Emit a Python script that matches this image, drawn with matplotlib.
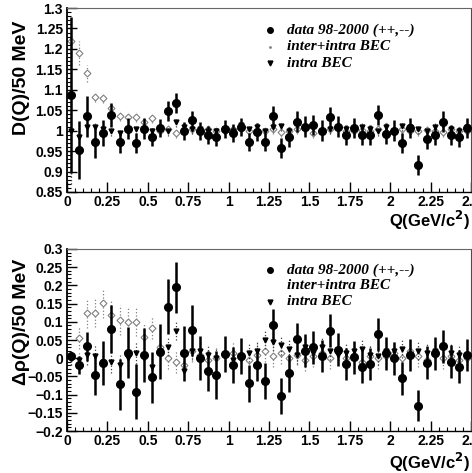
import numpy as np
import matplotlib
matplotlib.use('Agg')
import matplotlib.pyplot as plt
from matplotlib.ticker import MultipleLocator, FuncFormatter

# bin centres, 50 MeV bins
q_bins = np.arange(50) * 0.05 + 0.025

# upper panel: D(Q)
d_top = [1.087, 0.953, 1.035, 0.972, 0.995, 1.038, 0.973, 1.005, 0.970, 1.005,
         0.985, 1.007, 1.048, 1.068, 1.000, 1.027, 1.000, 0.990, 0.985, 1.003,
         0.995, 1.010, 0.973, 0.997, 0.973, 1.036, 0.957, 0.985, 1.022, 1.010,
         1.014, 1.000, 1.034, 1.010, 0.990, 1.006, 0.990, 0.990, 1.038, 0.993,
         1.000, 0.970, 1.006, 0.916, 0.979, 0.990, 1.022, 0.990, 0.985, 1.006]
d_top_err = [0.19, 0.07, 0.05, 0.04, 0.032, 0.03, 0.027, 0.025, 0.025, 0.025,
             0.022, 0.022, 0.025, 0.025, 0.022, 0.022, 0.022, 0.022, 0.022, 0.022,
             0.022, 0.022, 0.022, 0.022, 0.022, 0.025, 0.025, 0.025, 0.025, 0.025,
             0.025, 0.025, 0.025, 0.025, 0.025, 0.025, 0.025, 0.025, 0.025, 0.025,
             0.025, 0.025, 0.025, 0.025, 0.025, 0.025, 0.025, 0.025, 0.025, 0.025]
ii_top = [1.22, 1.19, 1.14, 1.082, 1.08, 1.055, 1.036, 1.034, 1.033, 1.021,
          1.03, 1.0, 1.005, 0.995, 1.0, 1.005, 1.0, 1.005, 1.0, 0.998,
          1.003, 1.005, 1.0, 1.002, 0.998, 1.005, 0.997, 1.0, 1.005, 1.003,
          0.995, 1.0, 1.003, 1.01, 1.0, 0.998, 1.002, 1.0, 1.003, 0.997,
          1.0, 1.005, 1.0, 0.998, 1.002, 1.0, 0.997, 1.003, 1.0, 1.0]
ii_top_err = [0.06, 0.03, 0.02] + [0.012] * 47
i_top = [1.0, 0.985, 1.01, 1.01, 1.005, 1.0, 0.995, 1.0, 1.005, 1.0,
         1.0, 1.005, 1.0, 1.02, 1.01, 1.005, 1.005, 1.0, 1.0, 1.005,
         1.0, 1.015, 1.005, 1.01, 1.0, 1.01, 1.012, 1.0, 1.015, 1.005,
         1.01, 1.0, 1.005, 1.01, 1.005, 1.0, 1.01, 1.005, 1.0, 1.008,
         1.0, 1.012, 1.01, 1.005, 1.0, 1.01, 1.015, 1.005, 1.0, 1.01]
i_top_err = [0.13, 0.03, 0.02] + [0.012] * 47

# lower panel: delta rho(Q)
d_bot = [0.006, -0.019, 0.033, -0.046, -0.014, 0.080, -0.072, 0.015, -0.092, 0.009,
         -0.053, 0.018, 0.142, 0.195, 0.013, 0.077, 0.0, -0.034, -0.046, 0.012,
         -0.019, 0.006, -0.069, -0.019, -0.062, 0.091, -0.104, -0.042, 0.053, 0.021,
         0.030, 0.006, 0.076, 0.023, -0.016, 0.002, -0.023, -0.016, 0.066, 0.013,
         0.0, -0.055, 0.009, -0.130, -0.012, 0.013, 0.033, -0.010, -0.023, 0.009]
d_bot_err = [0.01, 0.025, 0.04, 0.055, 0.06, 0.065, 0.07, 0.07, 0.075, 0.075,
             0.07, 0.075, 0.075, 0.07, 0.075, 0.07, 0.06, 0.055, 0.065, 0.05,
             0.05, 0.05, 0.05, 0.045, 0.05, 0.045, 0.05, 0.05, 0.045, 0.045,
             0.045, 0.045, 0.045, 0.045, 0.045, 0.045, 0.045, 0.045, 0.045, 0.045,
             0.045, 0.045, 0.045, 0.043, 0.045, 0.045, 0.045, 0.045, 0.045, 0.045]
ii_bot = [0.0, 0.055, 0.123, 0.125, 0.151, 0.119, 0.105, 0.10, 0.10, 0.059,
          0.082, 0.03, 0.0, -0.01, -0.02, 0.02, 0.01, -0.005, 0.0, 0.01,
          0.015, 0.0, -0.005, 0.01, 0.02, 0.005, 0.015, 0.0, 0.01, -0.005,
          0.005, 0.015, 0.0, 0.025, 0.0, 0.01, -0.01, 0.005, 0.0, 0.005,
          0.015, 0.0, 0.02, 0.005, -0.005, 0.01, 0.0, 0.005, -0.005, 0.0]
ii_bot_err = [0.02, 0.03, 0.04, 0.04, 0.04, 0.04, 0.04, 0.04, 0.04, 0.035] + [0.03] * 40
i_bot = [0.0, -0.005, 0.01, 0.005, -0.01, -0.01, -0.02, 0.0, 0.014, 0.0,
         -0.025, 0.02, 0.03, 0.075, -0.035, 0.02, 0.02, 0.01, 0.0, 0.01,
         -0.005, 0.0, 0.015, 0.02, 0.05, 0.045, 0.035, 0.025, 0.01, 0.03,
         0.015, 0.03, 0.02, 0.01, 0.015, 0.02, 0.025, 0.01, 0.005, 0.02,
         0.02, 0.025, 0.01, 0.02, 0.015, 0.02, 0.03, 0.015, 0.01, 0.005]
i_bot_err = [0.02, 0.02, 0.03, 0.03, 0.03, 0.03, 0.03, 0.03, 0.03, 0.03] + [0.025] * 40

legend_labels = ['data 98-2000 (++,--)', 'inter+intra BEC', 'intra BEC']
x_ticks = [0, 0.25, 0.5, 0.75, 1, 1.25, 1.5, 1.75, 2, 2.25, 2.5]

plt.rcParams['font.family'] = ['Liberation Sans', 'DejaVu Sans']
plt.rcParams['font.weight'] = 'bold'

fig = plt.figure(figsize=(4.72, 4.73), dpi=100)
ax1 = fig.add_axes([67/472, 1-192/473, 404/472, 184/473])
ax2 = fig.add_axes([67/472, 1-431/473, 404/472, 182/473])


def fmt(v, pos):
    s = '%g' % round(v, 3)
    return s.replace('-', '\u2212')


def draw_panel(ax, d, de, ii, iie, ia, iae, ylim, ymaj, ymin):
    # inter+intra: open diamonds, dotted bars
    c = ax.errorbar(q_bins, ii, yerr=iie, fmt='D', ms=3.5, mfc='white',
                    mec='0.5', mew=0.8, ecolor='0.5', elinewidth=0.9, zorder=2)
    c[2][0].set_linestyle(':')
    # intra: filled down triangles, dotted bars
    c = ax.errorbar(q_bins, ia, yerr=iae, fmt='v', ms=3.5, color='black',
                    ecolor='0.25', elinewidth=0.9, zorder=3)
    c[2][0].set_linestyle(':')
    # data
    ax.errorbar(q_bins, d, yerr=de, fmt='o', ms=5.5, color='black',
                elinewidth=1.8, zorder=4)
    ax.set_xlim(0, 2.5)
    ax.set_ylim(*ylim)
    ax.xaxis.set_major_locator(plt.FixedLocator(x_ticks))
    ax.xaxis.set_minor_locator(MultipleLocator(0.05))
    ax.yaxis.set_major_locator(MultipleLocator(ymaj))
    ax.yaxis.set_minor_locator(MultipleLocator(ymin))
    ax.xaxis.set_major_formatter(FuncFormatter(fmt))
    ax.yaxis.set_major_formatter(FuncFormatter(fmt))
    ax.tick_params(which='both', direction='in', top=False, right=False,
                   labelsize=10)
    ax.tick_params(axis='x', pad=2)
    ax.tick_params(axis='y', pad=3)
    ax.tick_params(which='major', length=7, width=1)
    ax.tick_params(which='minor', length=3, width=0.8)
    for lab in ax.get_xticklabels() + ax.get_yticklabels():
        lab.set_fontweight('bold')
    ax.spines['left'].set_linewidth(1.3)
    ax.spines['bottom'].set_linewidth(1.0)
    ax.spines['top'].set_linestyle((0, (3, 1)))
    ax.spines['top'].set_color('0.4')
    ax.spines['right'].set_linewidth(0.8)
    ax.spines['right'].set_color('0.3')


draw_panel(ax1, d_top, d_top_err, ii_top, ii_top_err, i_top, i_top_err,
           (0.85, 1.3), 0.05, 0.01)
draw_panel(ax2, d_bot, d_bot_err, ii_bot, ii_bot_err, i_bot, i_bot_err,
           (-0.2, 0.3), 0.05, 0.01)

# legends drawn by hand
leg_font = dict(family='Liberation Serif', style='italic', weight='bold',
                fontsize=11, va='center', ha='left')
for ax, ys, show_open in [(ax1, [0.88, 0.79, 0.70], True),
                          (ax2, [0.885, 0.797, 0.709], False)]:
    ax.plot([0.503], [ys[0]], 'o', ms=4, color='black', transform=ax.transAxes)
    if show_open:
        ax.plot([0.503], [ys[1]], '.', ms=2, color='0.5', transform=ax.transAxes)
    ax.plot([0.503], [ys[2]], 'v', ms=3.5, color='black', transform=ax.transAxes)
    for y, lab in zip(ys, legend_labels):
        ax.text(0.545, y, lab, transform=ax.transAxes, **leg_font)

fig.text(22/472, 1-78/473, 'D(Q)/50 MeV', rotation=90, ha='center',
         va='center', fontsize=14, fontweight='bold')
fig.text(22/472, 1-322/473, '\u0394\u03c1(Q)/50 MeV', rotation=90, ha='center',
         va='center', fontsize=14, fontweight='bold')
fig.text(470/472, 1-227/473, 'Q(GeV/c$^{\\mathbf{2}}$)', ha='right', va='baseline',
         fontsize=12, fontweight='bold')
fig.text(470/472, 1-469/473, 'Q(GeV/c$^{\\mathbf{2}}$)', ha='right', va='baseline',
         fontsize=12, fontweight='bold')

fig.savefig('out.png', dpi=100)
